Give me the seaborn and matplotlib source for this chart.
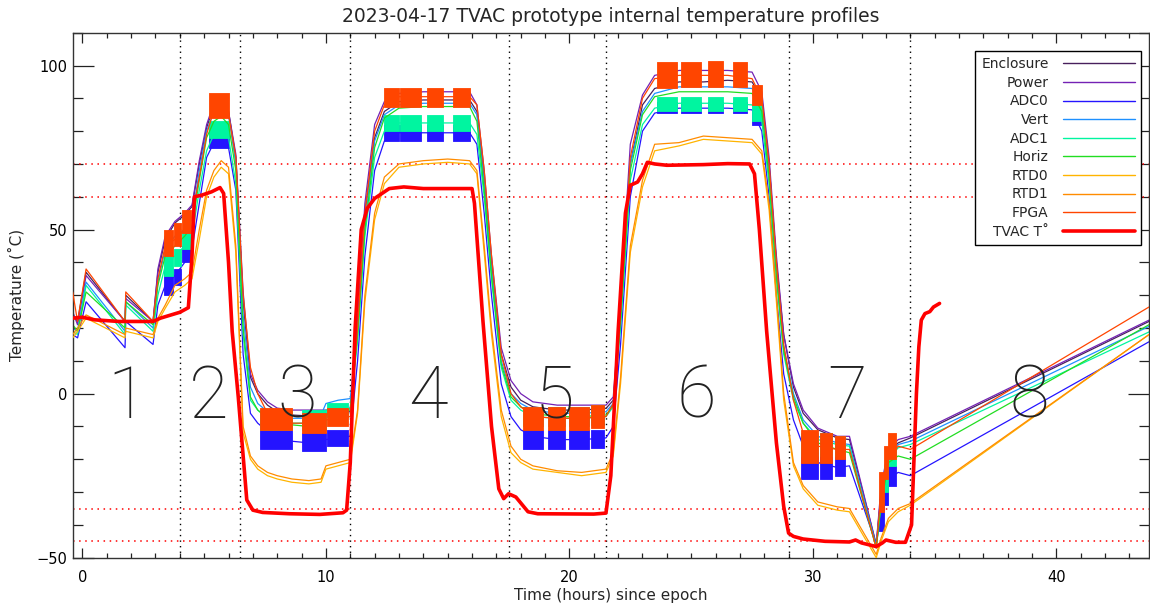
import matplotlib
matplotlib.use("Agg")
import numpy as np
import pandas as pd
import matplotlib.pyplot as plt
import seaborn as sns
from matplotlib.lines import Line2D
from matplotlib.ticker import MultipleLocator

# ---------------- data ----------------
HOURS = [-0.4, -0.2, 0.15, 1.75, 1.78, 2.9,
         3.1, 3.4, 3.8, 4.2, 4.5, 4.8, 5.1, 5.4, 5.7, 6.0,
         6.3, 6.6, 6.9, 7.2, 7.6, 8.0, 8.6, 9.3, 9.8, 10.0, 10.5, 11.0,
         11.3, 11.6, 12.0, 12.4, 13.0, 14.0, 15.0, 15.9,
         16.2, 16.5, 16.8, 17.2, 17.6, 18.0, 18.5, 19.5, 20.5, 21.5,
         21.8, 22.1, 22.5, 23.0, 23.5, 24.5, 25.5, 26.5, 27.5,
         27.9, 28.2, 28.5, 28.8, 29.2, 29.6, 30.2, 31.0, 31.5,
         32.6, 32.8, 33.1, 33.5, 34.0, 43.8]

ENCLOSURE = [24, 22, 37, 22, 30, 22,
             37, 47, 52, 54.5, 57, 70, 81, 88, 89.5, 86,
             72, 28, 5, 0, -3.5, -5.5, -6.5, -6.8, -6.5, -6, -6, -5.5,
             20, 55, 78, 86, 89, 89.5, 89.5, 89.5,
             86, 65, 40, 12, 2, -2, -4, -5, -5, -4.5,
             -2, 25, 70, 88, 93, 95, 95, 95.5, 95,
             90, 70, 40, 18, 2, -6, -11, -13.5, -14,
             -46, -30, -18, -15, -13.5, 22]
POWER = [25, 21, 36, 22, 29, 22,
         38, 48, 52.5, 55, 57.5, 71, 82, 88.5, 89.5, 86,
         73, 31, 6, 1, -2.5, -4.4, -5, -5, -5, -5, -5, -4.5,
         22, 58, 82, 89, 91.5, 92, 92, 92,
         88, 68, 42, 14, 4, 0, -2.5, -3.5, -3.5, -3.5,
         -1, 28, 76, 91, 97, 98.5, 98.5, 98.5, 98,
         92, 72, 42, 18, 3, -5, -10.5, -13, -13,
         -46, -28, -17, -14, -13, 22.4]
ADC0 = [18, 17, 28, 14, 22, 15,
        27, 33, 36, 40, 44, 58, 72, 76.5, 77, 75,
        62, 12, -6, -9, -11.5, -13.5, -14.5, -15, -14.5, -14, -13.5, -13,
        10, 42, 68, 77, 79.5, 79.5, 79.5, 79.5,
        76, 55, 30, 3, -7, -11, -13, -14, -14, -13.5,
        -10, 15, 60, 80, 85.5, 87, 87, 87, 86.5,
        80, 60, 30, 6, -8, -16, -21, -22.5, -22,
        -46, -36, -26, -24, -25, 15.8]
VERT = [20, 19, 34, 19, 28, 20,
        34, 44, 48, 50, 53, 68, 80, 86, 87.5, 85,
        70, 24, 2, -3, -5.5, -7, -7.5, -7.5, -6.5, -3, -2, -1.5,
        20, 52, 77, 85, 88, 88.5, 88.5, 88.5,
        85, 64, 38, 10, 0, -3, -5, -6, -6, -5.5,
        -3, 24, 70, 86, 91.5, 93.5, 93.5, 93.5, 93,
        88, 68, 38, 14, 0, -8, -13, -15, -15.5,
        -46.5, -32, -19, -15.5, -14.5, 20.5]
ADC1 = [19, 18, 33, 18, 27, 19,
        30, 39, 42, 45, 48, 62, 74, 79, 80.5, 78,
        64, 18, -2, -5, -7.5, -8.5, -9, -9, -8, -5, -5, -4.5,
        16, 48, 72, 80, 82.5, 82.5, 82.5, 82.5,
        79, 60, 35, 8, -2, -5, -7, -7.5, -7.5, -7,
        -4, 20, 65, 82, 87, 88.5, 88.5, 88.5, 88,
        83, 64, 35, 12, -2, -9, -14, -15.5, -16,
        -47, -33, -20, -16.5, -15.5, 18.8]
HORIZ = [21, 19, 31, 20, 28, 21,
         33, 42, 45, 48, 51, 65, 78, 83, 84.5, 82,
         68, 20, -1, -5, -7.5, -9, -9.5, -10, -9, -6.5, -5.5, -5,
         18, 50, 75, 84, 87, 87.5, 87.5, 87.5,
         83, 62, 36, 9, -1, -4, -6, -7, -7, -6.5,
         -3.5, 22, 68, 85, 90.5, 92, 92, 92, 91.5,
         86, 66, 36, 13, -1, -9, -15, -17, -18,
         -47, -34, -21, -19, -20, 21]
RTD0 = [17, 19, 23, 17, 19, 17,
        22, 26, 31, 33, 35, 47, 60, 66, 69, 67,
        43, -12, -20, -23, -25, -26, -27, -27.5, -27, -23, -22, -21,
        -6, 28, 53, 64, 69, 70, 70.5, 70,
        67, 43, 18, -7, -18, -21, -23, -24, -25, -24,
        -19, 3, 43, 63, 74, 75.5, 77.5, 77, 76.5,
        73, 56, 28, -2, -22, -29, -34, -35.5, -36,
        -50, -45, -39, -36, -34, 18]
RTD1 = [18, 20, 24, 18, 20, 18,
        23, 27, 33, 35, 37, 50, 62, 68, 71, 69,
        45, -10, -19, -22, -24, -25, -26, -26.5, -26, -22, -21, -20,
        -5, 30, 55, 66, 70, 71, 71.5, 71,
        68, 45, 20, -5, -16, -20, -22, -23.5, -24, -23,
        -18, 5, 45, 65, 76, 76.5, 78.5, 78, 77.5,
        74, 58, 30, 0, -21, -28, -33, -34.5, -35,
        -49, -44, -38, -35, -33.5, 18]
FPGA = [31, 22, 38, 22, 31, 22,
        35, 45, 47, 50, 54, 66, 79, 86.5, 88, 85,
        72, 30, 8, 0, -6, -8.5, -9, -9, -8.5, -8, -7.5, -7,
        20, 55, 80, 88, 90.5, 90.5, 90.5, 90.5,
        88, 68, 42, 12, 0, -4, -7, -7.5, -7.5, -7,
        -3, 25, 72, 90, 96, 97, 97, 97, 96,
        90, 70, 40, 15, -2, -12, -16, -17, -17,
        -47, -30, -20, -16, -17, 26.4]

TVAC_HOURS = [-0.4, 0.0, 0.5, 1.5, 2.9, 3.2, 4.0, 4.35, 4.5, 4.6, 4.9, 5.3, 5.65, 5.8,
              6.0, 6.15, 6.4, 6.75, 7.0, 7.4, 8.5, 9.75, 10.7, 10.85, 11.0, 11.2,
              11.45, 11.7, 12.0, 12.6, 13.2, 14.0, 16.0, 16.1, 16.45, 16.8, 17.1,
              17.3, 17.5, 17.8, 18.3, 18.7, 21.0, 21.5, 21.7, 22.0, 22.3, 22.5,
              22.8, 23.0, 23.2, 23.5, 24.0, 25.5, 26.5, 27.4, 27.6, 27.8, 28.1,
              28.5, 28.8, 29.0, 29.2, 29.6, 30.5, 31.5, 31.75, 32.0, 32.6, 32.85,
              33.0, 33.4, 33.8, 34.05, 34.15, 34.25, 34.35, 34.45, 34.6, 34.8,
              34.95, 35.2]
TVAC = [23, 23.3, 22.5, 22, 22, 23, 24.8, 26.2, 42, 60, 60.5, 61.5, 62.8, 61,
        40, 19, -1, -32.4, -35.5, -36.2, -36.6, -36.8, -36.3, -35.5, -21, 20,
        50, 56.5, 59.5, 62.5, 63, 62.5, 62.5, 58, 22, -10, -29,
        -32, -30.5, -31.5, -36, -36.6, -36.7, -36.4, -25, 19, 55, 63.5,
        64.5, 67, 70.5, 70, 69.6, 69.8, 70.1, 70, 67, 50, 19,
        -15, -34.4, -42.5, -43.5, -44.3, -45, -45.2, -44.6, -45.5, -46.6, -45.5,
        -44.6, -45.3, -45.3, -40, -20, 0, 14.3, 22.4, 24.4, 25,
        26.4, 27.5]

# noisy bursts (start, end hour) and the envelope of the noise for three sensors
NAN = float("nan")
BURST_START = [3.35, 3.75, 4.1, 5.2, 7.3, 9.0, 10.05, 12.4, 13.05, 14.15, 15.2,
               18.1, 19.1, 20.0, 20.9, 23.6, 24.6, 25.7, 26.7, 27.5,
               29.5, 30.3, 30.9, 32.7, 32.9, 33.1]
BURST_END = [3.7, 4.05, 4.45, 6.0, 8.6, 10.0, 10.9, 13.0, 13.9, 14.8, 15.9,
             18.9, 19.8, 20.8, 21.4, 24.4, 25.4, 26.3, 27.3, 27.9,
             30.2, 30.8, 31.3, 32.9, 33.1, 33.4]
FPGA_LO = [42, 45, 49, 84, -11, -12, -10, 87.5, 87.5, 87.5, 87.5,
           -11, -11, -11, -10.5, 93, 93.5, 93.5, 93.5, 88,
           -21, -21, -20, -36, -26, -20]
FPGA_HI = [50, 52, 56, 91.5, -4.5, -6, -4.5, 93, 93, 93, 93,
           -4, -4, -4, -3.5, 101, 101, 101.5, 101, 94,
           -11, -12, -13, -24, -16, -12]
ADC0_LO = [30, 33, 40, 75, -17, -17.5, -16, 77, 77, 77, 77,
           -17, -17, -17, -16.5, 85.5, 85.5, 85.5, 85.5, 82,
           -26, -26, -25, -42, -34, -28]
ADC0_HI = [38, 38, 45, 80, -11, -12, -11, 82, 82, 82, 82,
           -11, -11, -11, -11, 89, 89, 89, 89, 86,
           -18, -18.5, -19, -32, -26, -22]
ADC1_LO = [36, 39, 44, 78, -11, -11, -7, 80, 80, 80, 80,
           -10, -10, -10, -9.5, 86, 86, 86, 86, 83,
           -19, -19, -19, NAN, -30, -22]
ADC1_HI = [42, 44, 50, 83, -5, -5, -3, 85, 85, 85, 85,
           -4, -4, -4, -3.5, 90.5, 90.5, 90.5, 90.5, 88,
           -12, -12, -13, NAN, -22, -16]

SENSORS = ["Enclosure", "Power", "ADC0", "Vert", "ADC1", "Horiz", "RTD0", "RTD1", "FPGA", "TVAC T˚"]
EVENT_HOURS = [4.0, 6.47, 11.0, 17.5, 21.5, 29.0, 34.0]
LIMIT_TEMPS = [70, 60, -35, -45]
PHASE_LABELS = ["1", "2", "3", "4", "5", "6", "7", "8"]
PHASE_CENTERS = [1.85, 5.17, 8.8, 14.2, 19.4, 25.2, 31.4, 38.9]

# ---------------- styling ----------------
COLORS = {"Enclosure": "#48205c", "Power": "#7422b4", "ADC0": "#2414ff", "Vert": "#1e90ff",
          "ADC1": "#00f5a0", "Horiz": "#22dd22", "RTD0": "#ffb400", "RTD1": "#ff8c00",
          "FPGA": "#ff4500", "TVAC T˚": "#ff0000"}

sns.set_theme(style="ticks")
plt.rcParams["font.family"] = ["DejaVu Sans"]

frames = []
series = {"Enclosure": ENCLOSURE, "Power": POWER, "ADC0": ADC0, "Vert": VERT, "ADC1": ADC1,
          "Horiz": HORIZ, "RTD0": RTD0, "RTD1": RTD1, "FPGA": FPGA}
for name, vals in series.items():
    frames.append(pd.DataFrame({"hours": HOURS, "temp": vals, "sensor": name}))
frames.append(pd.DataFrame({"hours": TVAC_HOURS, "temp": TVAC, "sensor": "TVAC T˚"}))
df = pd.concat(frames, ignore_index=True)

bands = {"ADC0": (ADC0_LO, ADC0_HI), "ADC1": (ADC1_LO, ADC1_HI), "FPGA": (FPGA_LO, FPGA_HI)}

fig = plt.figure(figsize=(11.5, 6.09), dpi=100)
ax = fig.add_axes([0.0632, 0.0842, 0.9359, 0.8621])

for x in EVENT_HOURS:
    ax.axvline(x, color="black", lw=1.0, ls=(0, (1, 3)), zorder=1)
for y in LIMIT_TEMPS:
    ax.axhline(y, color="#ff0000", lw=1.1, ls=(0, (1, 3)), zorder=1)

for i, name in enumerate(SENSORS):
    sub = df[df["sensor"] == name]
    lw = 2.6 if name.startswith("TVAC") else 0.9
    z = 2 + 0.1 * i
    sns.lineplot(data=sub, x="hours", y="temp", color=COLORS[name], lw=lw, ax=ax,
                 legend=False, sort=False, estimator=None, zorder=z)
    if name in bands:
        lo, hi = bands[name]
        for t0, t1, a, b in zip(BURST_START, BURST_END, lo, hi):
            if np.isnan(a):
                continue
            ax.fill_between([t0, t1], [a, a], [b, b], color=COLORS[name], lw=0.6,
                            edgecolor=COLORS[name], zorder=z)

for lab, xc in zip(PHASE_LABELS, PHASE_CENTERS):
    ax.text(xc, -7.4, lab, ha="center", va="baseline", fontsize=52, color="#222222",
            family=["Roboto", "DejaVu Sans"], fontweight=100, zorder=6)

ax.set_xlim(-0.4, 43.8)
ax.set_ylim(-50, 110)
ax.xaxis.set_major_locator(MultipleLocator(10))
ax.xaxis.set_minor_locator(MultipleLocator(1))
ax.yaxis.set_major_locator(MultipleLocator(50))
ax.yaxis.set_minor_locator(MultipleLocator(10))
ax.tick_params(axis="both", which="both", direction="in", top=True, right=True,
               colors="#222222", width=0.9, labelsize=10.5, labelcolor="black")
ax.tick_params(axis="x", which="major", length=7, pad=9)
ax.tick_params(axis="x", which="minor", length=3.3)
ax.tick_params(axis="y", which="major", length=15, pad=4)
ax.tick_params(axis="y", which="minor", length=7.5)
for sp in ax.spines.values():
    sp.set_color("#333333")
    sp.set_linewidth(1.0)

ax.set_xlabel("Time (hours) since epoch", fontsize=11, labelpad=2)
ax.set_ylabel("Temperature (˚C)", fontsize=11, labelpad=8)
ax.set_title("2023-04-17 TVAC prototype internal temperature profiles", fontsize=13.5, pad=8)

handles = [Line2D([], [], color=COLORS[n], lw=2.6 if n.startswith("TVAC") else 1.0) for n in SENSORS]
leg = ax.legend(handles, SENSORS, loc="upper right", bbox_to_anchor=(0.9926, 0.965),
                markerfirst=False, frameon=True, fancybox=False, edgecolor="black",
                framealpha=1, fontsize=10, handlelength=5.2, handletextpad=1.0,
                labelspacing=0.33, borderpad=0.45, borderaxespad=0)
leg.get_frame().set_linewidth(1.0)
leg.set_zorder(10)

fig.savefig("out.png", dpi=100)
